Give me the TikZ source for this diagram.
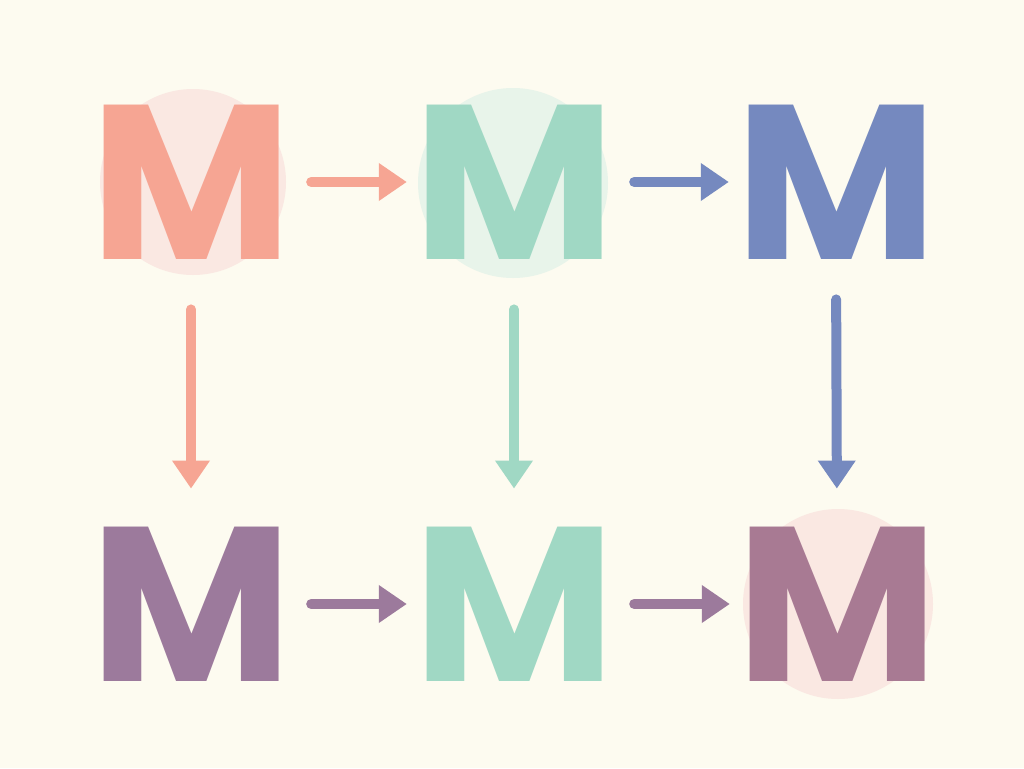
\documentclass[tikz,border=0pt]{standalone}
\usepackage{fontspec}
\setmainfont{Poppins}
\usepackage{xcolor}
\usetikzlibrary{arrows.meta}

\definecolor{cream}{HTML}{FDFBF0}
\definecolor{salmon}{HTML}{F6A593}
\definecolor{mint}{HTML}{A0D8C4}
\definecolor{slate}{HTML}{7589BF}
\definecolor{plum}{HTML}{9C7A9C}
\definecolor{mauve}{HTML}{A87A93}
\definecolor{halored}{HTML}{FAE8E2}
\definecolor{halogreen}{HTML}{E8F4EA}

\begin{document}
\begin{tikzpicture}[x=1pt,y=1pt,yscale=-1,
  letter/.style={inner sep=0pt,font=\fontsize{220}{220}\selectfont\bfseries},
  link/.style={line width=10pt,line cap=round,-{Triangle[length=28pt,width=36pt]}},
  across/.style={link,shorten <=19pt,shorten >=6pt},
  down/.style={link,shorten <=50pt,shorten >=38pt}]
% background and halos
\fill[cream] (0,0) rectangle (1024,768);
\fill[halored] (193,182) circle (93);
\fill[halogreen] (513,183) circle (95);
\fill[halored] (838,604) circle (95);
% the six letters
\node[letter,text=salmon] (ma) at (191,182) {M};
\node[letter,text=mint]   (mb) at (514,182) {M};
\node[letter,text=slate]  (mc) at (836,182) {M};
\node[letter,text=plum]   (md) at (191,604) {M};
\node[letter,text=mint]   (me) at (514,604) {M};
\node[letter,text=mauve]  (mf) at (837,604) {M};
% rows
\draw[across,salmon] (ma.east) -- (mb.west);
\draw[across,slate]  (mb.east) -- (mc.west);
\draw[across,plum]   (md.east) -- (me.west);
\draw[across,plum]   (me.east) -- (mf.west);
% columns
\draw[down,salmon] (ma.south) -- (md.north);
\draw[down,mint]   (mb.south) -- (me.north);
\draw[down,slate,shorten <=40pt] (mc.south) -- (mf.north);
\end{tikzpicture}
\end{document}
